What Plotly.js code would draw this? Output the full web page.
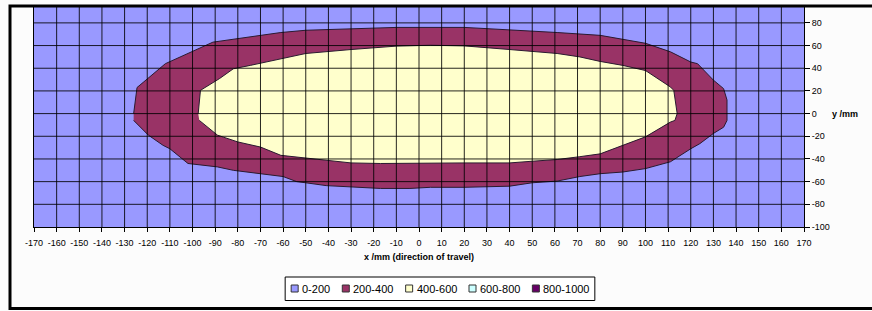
<!DOCTYPE html>
<html><head><meta charset="utf-8">
<script src="https://cdn.plot.ly/plotly-3.0.1.min.js"></script>
<style>html,body{margin:0;padding:0;background:#fff;}</style>
</head><body><div id="chart" style="width:872px;height:311px;"></div>
<script>
// Boundary of the 200 contour (outer edge of the 200-400 band), x/mm and y/mm
const outerX = [-126, -124.5, -121.5, -112, -91, -61, -50, -30, -10, 20, 40, 61, 80, 90, 100, 111, 120, 123, 130, 134.5, 136, 136, 134.5, 130, 124, 120, 111, 100, 90, 80, 71, 61, 50, 40, 20, 5, -4, -17, -30, -41, -50, -54, -60, -70, -82, -89, -102, -110, -113, -119.5, -126];
const outerY = [0, 23, 28, 44, 63, 71.5, 73.5, 75, 76, 76, 74, 71.5, 69, 65.5, 62, 54.5, 45.5, 44, 29.5, 22, 12, -6, -12, -17.5, -26.5, -31, -42.5, -48.5, -51.5, -53, -55.5, -59.5, -61, -64, -65, -65, -66, -66, -64.5, -63.5, -61, -60, -55.5, -53, -50, -47, -44, -31, -28, -19, -6];
// Boundary of the 400 contour (outer edge of the 400-600 band)
const innerX = [-97.5, -96.5, -88, -82, -74.5, -61, -50, -30, -10, 5, 20, 40, 61, 71, 80, 90, 100, 111, 112.5, 114, 113, 111, 105, 100, 90, 80, 71, 61, 50, 40, 20, 0, -17, -30, -41, -50, -61, -70, -80, -89, -97];
const innerY = [0, 20.5, 31, 39.5, 42.5, 48.5, 53, 56.5, 59.5, 60.3, 59.7, 56.5, 53, 50, 46, 42.5, 38, 23.5, 20.5, 0, -6, -7.5, -14.5, -20.5, -28, -35.5, -38, -40.5, -42, -43.5, -43.5, -44, -44, -43.5, -41, -39.5, -36.8, -29.5, -25, -19, -6];

const xTicks = [-170,-160,-150,-140,-130,-120,-110,-100,-90,-80,-70,-60,-50,-40,-30,-20,-10,0,10,20,30,40,50,60,70,80,90,100,110,120,130,140,150,160,170];
const yTicks = [-100,-80,-60,-40,-20,0,20,40,60,80];
const legendLabels = ['0-200','200-400','400-600','600-800','800-1000'];
const legendColors = ['#9999FF','#993366','#FFFFCC','#CCFFFF','#660066'];
const xTitle = 'x /mm (direction of travel)';
const yTitle = 'y /mm';

const FW = 872, FH = 311;
const L = 34, T = 7, PW = 770, PH = 220;
const px = v => (v - L) / PW;
const py = v => (T + PH - v) / PH;
const FONT = '"Liberation Sans", Arial, sans-serif';

const traces = [
  {type:'scatter', mode:'lines', x: outerX, y: outerY, fill:'toself', fillcolor: legendColors[1],
   line:{color:'#2a1a30', width:1}, hoverinfo:'skip', showlegend:false},
  {type:'scatter', mode:'lines', x: innerX, y: innerY, fill:'toself', fillcolor: legendColors[2],
   line:{color:'#2a1a30', width:1}, hoverinfo:'skip', showlegend:false}
];

const shapes = [];
// frame (no fill so the plot background stays visible)
shapes.push({type:'rect', xref:'paper', yref:'paper', x0:px(10), x1:px(900), y0:py(308.5), y1:py(6),
  line:{color:'#000', width:3}, fillcolor:'rgba(0,0,0,0)', layer:'above'});
// grid lines on top of the fills
xTicks.slice(1, -1).forEach(v => shapes.push({type:'line', xref:'x', yref:'paper', x0:v, x1:v, y0:0, y1:1,
  line:{color:'rgba(0,0,0,0.85)', width:1}, layer:'above'}));
yTicks.slice(1).forEach(v => shapes.push({type:'line', xref:'paper', yref:'y', x0:0, x1:1, y0:v, y1:v,
  line:{color:'rgba(0,0,0,0.85)', width:1}, layer:'above'}));

const annotations = [
  {xref:'paper', yref:'paper', x:0.5, y:py(257), xanchor:'center', yanchor:'middle', showarrow:false,
   text:'<b>'+xTitle+'</b>', font:{family:FONT, size:9, color:'#000'}},
  {xref:'paper', yref:'y', x:px(830), y:0, xanchor:'left', yanchor:'middle', showarrow:false,
   text:'<b>'+yTitle+'</b>', font:{family:FONT, size:9, color:'#000'}}
];

// manual legend (Excel style)
const LFS = 11;
const tw = s => [...s].reduce((a,c) => a + (c === '-' ? 0.333 : 0.556) * LFS, 0);
const sq = 7, gap1 = 3, gap2 = 13, pad = 6;
const total = legendLabels.reduce((a,s) => a + sq + gap1 + tw(s), 0) + gap2 * (legendLabels.length - 1) + 2 * pad;
const cx = 440, cy = 288.5;
let xs = cx - total / 2;
shapes.push({type:'rect', xref:'paper', yref:'paper', x0:px(xs), x1:px(xs + total), y0:py(cy + 12), y1:py(cy - 11.5),
  line:{color:'#000', width:1}, fillcolor:'#fff', layer:'above'});
let cur = xs + pad;
legendLabels.forEach((lab, i) => {
  shapes.push({type:'rect', xref:'paper', yref:'paper', x0:px(cur), x1:px(cur + sq), y0:py(cy + sq/2), y1:py(cy - sq/2),
    line:{color:'#333', width:1}, fillcolor:legendColors[i], layer:'above'});
  annotations.push({xref:'paper', yref:'paper', x:px(cur + sq + gap1), y:py(cy), xanchor:'left', yanchor:'middle',
    showarrow:false, text:lab, font:{family:FONT, size:LFS, color:'#000'}, borderpad:0});
  cur += sq + gap1 + tw(lab) + gap2;
});

const layout = {
  width: FW, height: FH,
  margin: {l: L, r: FW - L - PW, t: T, b: FH - T - PH, pad: 0},
  paper_bgcolor: '#FCFCFC', plot_bgcolor: legendColors[0],
  showlegend: false,
  font: {family: FONT, size: 9, color: '#000'},
  xaxis: {range: [-170, 170], tickvals: xTicks, ticktext: xTicks.map(String), showgrid: false, zeroline: false,
    showline: true, linecolor: '#000', linewidth: 1, mirror: true, ticks: 'outside', ticklen: 4, tickcolor: '#000',
    ticklabelstandoff: 3, tickfont: {family: FONT, size: 9, color: '#000'}, fixedrange: true},
  yaxis: {range: [-100, 94], side: 'right', tickvals: yTicks, ticktext: yTicks.map(String), showgrid: false, zeroline: false,
    showline: true, linecolor: '#000', linewidth: 1, mirror: true, ticks: 'outside', ticklen: 5, tickcolor: '#000',
    tickfont: {family: FONT, size: 9, color: '#000'}, fixedrange: true},
  shapes: shapes,
  annotations: annotations
};

Plotly.newPlot('chart', traces, layout, {displayModeBar: false, staticPlot: true});
</script>
</body></html>
